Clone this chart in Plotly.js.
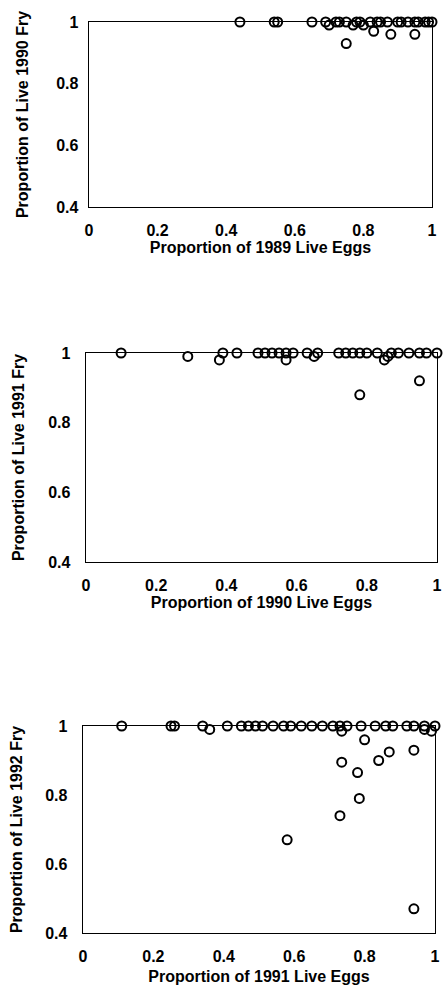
<!DOCTYPE html>
<html><head><meta charset="utf-8">
<script src="https://cdn.plot.ly/plotly-3.0.1.min.js"></script>
<style>html,body{margin:0;padding:0;background:#fff}#c{width:446px;height:987px}</style>
</head><body><div id="c"></div>
<script>
// Panel 1: 1989 eggs -> 1990 fry
const eggs1989 = [0.44, 0.54, 0.55, 0.65, 0.69, 0.70, 0.72, 0.73, 0.75, 0.75, 0.77, 0.78, 0.79, 0.80, 0.82, 0.83, 0.84, 0.85, 0.87, 0.88, 0.90, 0.91, 0.93, 0.95, 0.95, 0.96, 0.98, 0.99, 1.0];
const fry1990  = [1, 1, 1, 1, 1, 0.99, 1, 1, 1, 0.93, 0.99, 1, 1, 0.99, 1, 0.97, 1, 1, 1, 0.96, 1, 1, 1, 0.96, 1, 1, 1, 1, 1];
// Panel 2: 1990 eggs -> 1991 fry
const eggs1990 = [0.10, 0.29, 0.38, 0.39, 0.43, 0.49, 0.51, 0.53, 0.55, 0.57, 0.57, 0.59, 0.63, 0.65, 0.66, 0.72, 0.74, 0.76, 0.78, 0.78, 0.80, 0.83, 0.85, 0.86, 0.87, 0.89, 0.92, 0.95, 0.95, 0.97, 1.0];
const fry1991  = [1, 0.99, 0.98, 1, 1, 1, 1, 1, 1, 1, 0.98, 1, 1, 0.99, 1, 1, 1, 1, 1, 0.88, 1, 1, 0.98, 0.99, 1, 1, 1, 1, 0.92, 1, 1];
// Panel 3: 1991 eggs -> 1992 fry
const eggs1991 = [0.11, 0.25, 0.26, 0.34, 0.36, 0.41, 0.45, 0.47, 0.49, 0.51, 0.54, 0.57, 0.59, 0.62, 0.65, 0.68, 0.71, 0.73, 0.735, 0.75, 0.79, 0.83, 0.86, 0.88, 0.92, 0.94, 0.97, 0.97, 0.99, 1.0,
                  0.80, 0.94, 0.87, 0.84, 0.735, 0.78, 0.785, 0.73, 0.58, 0.94];
const fry1992  = [1, 1, 1, 1, 0.99, 1, 1, 1, 1, 1, 1, 1, 1, 1, 1, 1, 1, 1, 0.985, 1, 1, 1, 1, 1, 1, 1, 1, 0.99, 0.985, 1,
                  0.96, 0.93, 0.925, 0.90, 0.895, 0.865, 0.79, 0.74, 0.67, 0.47];

const xTickVals = [0, 0.2, 0.4, 0.6, 0.8, 1];
const xTickText = ["0", "0.2", "0.4", "0.6", "0.8", "1"];
const yTickVals = [0.4, 0.6, 0.8, 1];
const yTickText = ["0.4", "0.6", "0.8", "1"];
const xTitles = ["Proportion of 1989 Live Eggs", "Proportion of 1990 Live Eggs", "Proportion of 1991 Live Eggs"];
const yTitles = ["Proportion of Live 1990 Fry", "Proportion of Live 1991 Fry", "Proportion of Live 1992 Fry"];

const FONT = "Liberation Sans, Arial, sans-serif";
const marker = {symbol: "circle-open", size: 9, color: "#000", line: {color: "#000", width: 2}};
function tr(x, y, n) {
  return {x: x, y: y, type: "scatter", mode: "markers", marker: marker, cliponaxis: false,
          xaxis: "x" + (n > 1 ? n : ""), yaxis: "y" + (n > 1 ? n : ""), showlegend: false, hoverinfo: "skip"};
}
const H = 987, W = 446;
function xa(i, l, r, yref, tstand) {
  return {domain: [l / W, r / W], range: [0, 1], anchor: yref, tickmode: "array", tickvals: xTickVals, ticktext: xTickText,
          showgrid: false, zeroline: false, showline: true, mirror: true, linecolor: "#000", linewidth: 1.4,
          ticks: "", ticklabelstandoff: 8, tickfont: {family: FONT, size: 16, color: "#000", weight: "bold"},
          title: {text: xTitles[i], standoff: tstand, font: {family: FONT, size: 16, color: "#000", weight: "bold"}}};
}
function ya(i, top, bot, xref, lstand, tstand) {
  return {domain: [1 - bot / H, 1 - top / H], range: [0.4, 1], anchor: xref, tickmode: "array", tickvals: yTickVals, ticktext: yTickText,
          showgrid: false, zeroline: false, showline: true, mirror: true, linecolor: "#000", linewidth: 1.4,
          ticks: "", ticklabelstandoff: lstand, tickfont: {family: FONT, size: 16, color: "#000", weight: "bold"},
          title: {text: yTitles[i], standoff: tstand, font: {family: FONT, size: 16, color: "#000", weight: "bold"}}};
}
const layout = {
  width: W, height: H, margin: {l: 0, r: 0, t: 0, b: 0}, paper_bgcolor: "#fff", plot_bgcolor: "#fff",
  xaxis: xa(0, 89, 432, "y", 3), yaxis: ya(0, 22, 207, "x", 6, 23),
  xaxis2: xa(1, 86, 437, "y2", 4), yaxis2: ya(1, 353, 562, "x2", 11, 19),
  xaxis3: xa(2, 83, 435, "y3", 7), yaxis3: ya(2, 726, 933, "x3", 11, 18)
};
Plotly.newPlot("c", [tr(eggs1989, fry1990, 1), tr(eggs1990, fry1991, 2), tr(eggs1991, fry1992, 3)], layout, {staticPlot: true});
</script></body></html>
